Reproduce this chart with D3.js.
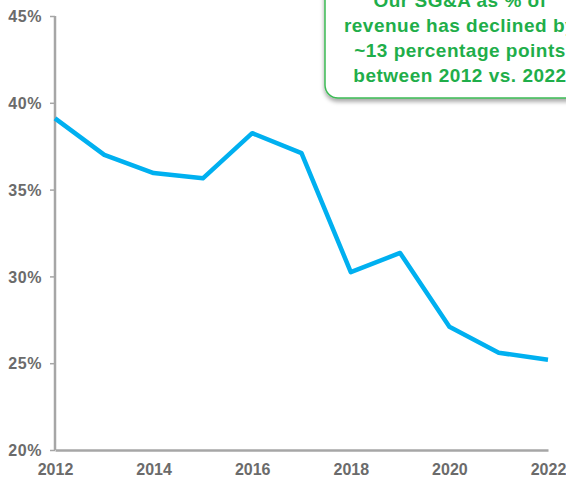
<!DOCTYPE html>
<html>
<head>
<meta charset="utf-8">
<script src="https://cdn.jsdelivr.net/npm/d3@7"></script>
<style>
  html, body { margin: 0; padding: 0; background: #fff; }
  svg { display: block; }
</style>
</head>
<body>
<svg id="chart" width="566" height="480"></svg>
<script>
const years = [2012, 2013, 2014, 2015, 2016, 2017, 2018, 2019, 2020, 2021, 2022];
const sgaPct = [39.1, 37.0, 35.95, 35.65, 38.25, 37.1, 30.25, 31.35, 27.1, 25.6, 25.2];
const yTicks = [20, 25, 30, 35, 40, 45];
const xTicks = [2012, 2014, 2016, 2018, 2020, 2022];
const calloutLines = ["Our SG&A as % of", "revenue has declined by", "~13 percentage points", "between 2012 vs. 2022"];

const svg = d3.select("#chart");
const x = d3.scaleLinear().domain([2012, 2022]).range([55, 548]);
const y = d3.scaleLinear().domain([20, 45]).range([450, 16]);

const axisColor = "#a6a6a6";
const labelColor = "#6b6b6b";
const font = "'Liberation Sans', Arial, sans-serif";

// Y axis
const yAxis = svg.append("g").attr("transform", `translate(${x(2012)},0)`)
  .call(d3.axisLeft(y).tickValues(yTicks).tickFormat(d => d + "%").tickSize(5).tickPadding(8));
yAxis.select(".domain").attr("stroke", axisColor).attr("stroke-width", 2.5).attr("d", `M0,${y(45)}V${y(20)}`);
yAxis.selectAll(".tick line").attr("stroke", axisColor).attr("stroke-width", 1.5);
yAxis.selectAll(".tick text").attr("fill", labelColor).attr("font-family", font)
  .attr("font-size", 16).attr("font-weight", "bold").attr("dy", "0.36em")
  .attr("letter-spacing", 0.6);

// X axis
const xAxis = svg.append("g").attr("transform", `translate(0,${y(20)})`)
  .call(d3.axisBottom(x).tickValues(xTicks).tickFormat(d3.format("d")).tickSize(0).tickPadding(14));
xAxis.select(".domain").attr("stroke", axisColor).attr("stroke-width", 2.5);
xAxis.selectAll(".tick text").attr("fill", labelColor).attr("font-family", font)
  .attr("font-size", 16).attr("font-weight", "bold");

// Line
const line = d3.line().x((d, i) => x(years[i])).y(d => y(d));
svg.append("path").datum(sgaPct)
  .attr("d", line)
  .attr("fill", "none")
  .attr("stroke", "#00b0f0")
  .attr("stroke-width", 4.5)
  .attr("stroke-linejoin", "round")
  .attr("stroke-linecap", "butt");

// Callout box
const defs = svg.append("defs");
const f = defs.append("filter").attr("id", "shadow").attr("x", "-10%").attr("y", "-10%").attr("width", "130%").attr("height", "140%");
f.append("feDropShadow").attr("dx", 0).attr("dy", 3).attr("stdDeviation", 2).attr("flood-color", "#000").attr("flood-opacity", 0.35);

svg.append("rect")
  .attr("x", 325).attr("y", -30).attr("width", 280).attr("height", 128)
  .attr("rx", 13).attr("ry", 13)
  .attr("fill", "#fff")
  .attr("stroke", "#3dba55")
  .attr("stroke-width", 1.5)
  .attr("filter", "url(#shadow)");

const tx = svg.append("text")
  .attr("font-family", font)
  .attr("font-size", 19)
  .attr("font-weight", "bold")
  .attr("fill", "#1fae4a")
  .attr("letter-spacing", 0.5)
  .attr("text-anchor", "middle");
tx.selectAll("tspan").data(calloutLines).join("tspan")
  .attr("x", 460)
  .attr("y", (d, i) => 7 + i * 25)
  .text(d => d);
</script>
</body>
</html>
